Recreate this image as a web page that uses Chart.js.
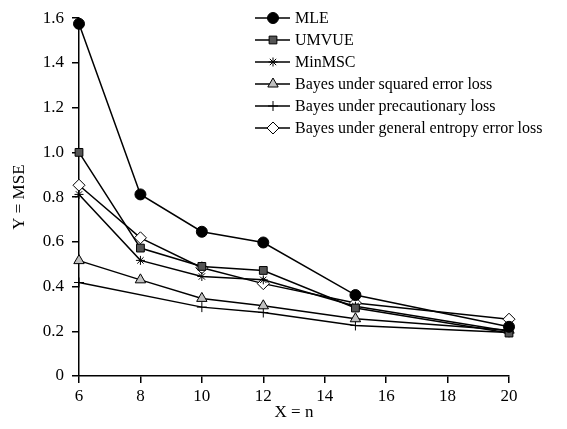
<!DOCTYPE html>
<html>
<head>
<meta charset="utf-8">
<script src="https://cdn.jsdelivr.net/npm/chart.js@4.4.0/dist/chart.umd.min.js"></script>
<style>
  html, body { margin: 0; padding: 0; background: #fff; }
  #wrap { width: 567px; height: 429px; }
</style>
</head>
<body>
<div id="wrap"><canvas id="c" width="567" height="429"></canvas></div>
<script>
// sample sizes on the x axis
const sampleSizes = [6, 8, 10, 12, 15, 20];

// MSE per estimator (null = no point drawn at that n)
const mle          = [1.575, 0.812, 0.645, 0.597, 0.362, 0.220];
const umvue        = [1.000, 0.572, 0.490, 0.472, 0.304, 0.192];
const minMsc       = [0.812, 0.517, 0.445, 0.430, 0.312, 0.200];
const bayesSq      = [0.516, 0.430, 0.347, 0.314, 0.256, 0.205];
const bayesPrec    = [0.418, null,  0.308, 0.284, 0.226, 0.195];
const bayesEntropy = [0.853, 0.618, 0.484, 0.413, 0.326, 0.254];

const seriesNames = [
  'MLE',
  'UMVUE',
  'MinMSC',
  'Bayes under squared error loss',
  'Bayes under precautionary loss',
  'Bayes under general entropy error loss'
];

const yTicks = [0, 0.2, 0.4, 0.6, 0.8, 1.0, 1.2, 1.4, 1.6];

const FONT = '"Liberation Serif", "Times New Roman", serif';

function pts(vals) {
  return vals.map((v, i) => ({ x: sampleSizes[i], y: v }));
}

function ds(label, vals, style, fill, radius) {
  return {
    label: label,
    data: pts(vals),
    borderColor: '#000',
    borderWidth: 1.5,
    pointStyle: style,
    pointRadius: radius,
    pointBackgroundColor: fill,
    pointBorderColor: '#000',
    pointBorderWidth: 1,
    tension: 0,
    spanGaps: true,
    clip: false
  };
}

const datasets = [
  ds(seriesNames[0], mle, 'circle', '#000', 5.5),
  ds(seriesNames[1], umvue, 'rect', '#555', 5.5),
  ds(seriesNames[2], minMsc, 'star', '#000', 4.5),
  ds(seriesNames[3], bayesSq, 'triangle', '#c0c0c0', 6),
  ds(seriesNames[4], bayesPrec, 'cross', '#000', 5),
  ds(seriesNames[5], bayesEntropy, 'rectRot', '#fff', 6)
];

// legend drawn in the upper right of the plot
const legendPlugin = {
  id: 'boxLegend',
  afterDraw(chart) {
    const ctx = chart.ctx;
    const x0 = 255, y0 = 18, rowH = 22;
    ctx.save();
    chart.data.datasets.forEach((d, i) => {
      const y = y0 + i * rowH;
      ctx.strokeStyle = '#000';
      ctx.lineWidth = 1.5;
      ctx.beginPath();
      ctx.moveTo(x0, y);
      ctx.lineTo(x0 + 35, y);
      ctx.stroke();
      ctx.fillStyle = d.pointBackgroundColor;
      ctx.strokeStyle = '#000';
      ctx.lineWidth = 1;
      Chart.helpers.drawPoint(ctx, {
        pointStyle: d.pointStyle,
        radius: d.pointRadius,
        borderWidth: 1,
        rotation: 0
      }, x0 + 18, y);
      ctx.fillStyle = '#000';
      ctx.font = '16px ' + FONT;
      ctx.textBaseline = 'middle';
      ctx.textAlign = 'left';
      ctx.fillText(d.label, x0 + 40, y + 1);
    });
    ctx.restore();
  }
};

function draw() {
  new Chart(document.getElementById('c'), {
    type: 'line',
    data: { datasets: datasets },
    plugins: [legendPlugin],
    options: {
      responsive: false,
      animation: false,
      layout: { padding: { top: 10, right: 58, left: 0, bottom: 0 } },
      plugins: {
        legend: { display: false },
        tooltip: { enabled: false }
      },
      scales: {
        x: {
          type: 'linear',
          min: 6,
          max: 20,
          ticks: {
            stepSize: 2,
            color: '#000',
            font: { family: FONT, size: 17 },
            padding: 3
          },
          grid: { drawOnChartArea: false, drawTicks: true, tickLength: 7, color: '#000', lineWidth: 1.5 },
          border: { display: true, color: '#000', width: 1.5 },
          title: {
            display: true,
            text: 'X = n',
            color: '#000',
            font: { family: FONT, size: 17 },
            padding: { top: 0, bottom: 6 }
          },
          afterFit(scale) { scale.height = 53; }
        },
        y: {
          type: 'linear',
          min: 0,
          max: 1.6,
          afterBuildTicks(scale) {
            scale.ticks = yTicks.map(v => ({ value: v }));
          },
          ticks: {
            color: '#000',
            font: { family: FONT, size: 17 },
            padding: 8,
            callback: v => (v === 0 ? '0' : v.toFixed(1))
          },
          grid: { drawOnChartArea: false, drawTicks: true, tickLength: 7, color: '#000', lineWidth: 1.5 },
          border: { display: true, color: '#000', width: 1.5 },
          title: {
            display: true,
            text: 'Y = MSE',
            color: '#000',
            font: { family: FONT, size: 17 },
            padding: { top: 9, bottom: 0 }
          },
          afterFit(scale) { scale.width = 79; }
        }
      }
    }
  });
}

if (document.fonts && document.fonts.load) {
  document.fonts.load('17px "Liberation Serif"').then(draw, draw);
} else {
  draw();
}
</script>
</body>
</html>
